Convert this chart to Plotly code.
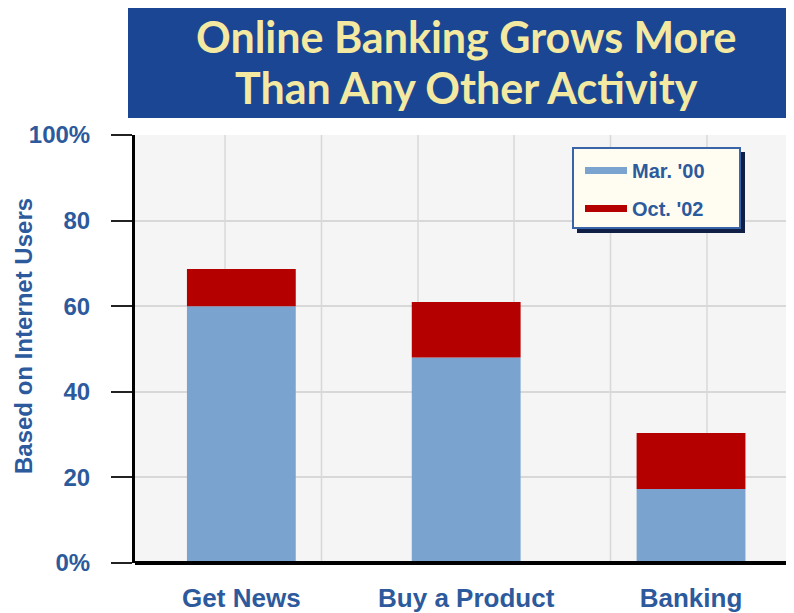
import plotly.graph_objects as go

# ---- data ----
categories = ["Get News", "Buy a Product", "Banking"]
mar_00 = [60, 48, 17.3]        # Mar. '00 share of internet users (%)
oct_02 = [68.7, 61, 30.4]      # Oct. '02 share of internet users (%)
y_tick_vals = [0, 20, 40, 60, 80, 100]
y_tick_text = ["0%", "20", "40", "60", "80", "100%"]
series_names = ["Mar. '00", "Oct. '02"]
title_lines = ["Online Banking Grows More", "Than Any Other Activity"]
y_title = "Based on Internet Users"

# ---- style ----
OFF = 8                      # page body margin
W, H = 794 - OFF, 613 - OFF
L, R, T, B = 127, 0, 127, 50
PW, PH = W - L - R, H - T - B
BLUE = "#7BA3CF"
RED = "#B50000"
TXT = "#2C5A9C"
NAVY = "#1B4694"
GRID = "#D8D8D8"


def px(x):   # page pixel x -> paper
    return (x - OFF - L) / PW


def py(y):   # page pixel y -> paper
    return (H - B - (y - OFF)) / PH


increase = [o - m for o, m in zip(oct_02, mar_00)]

fig = go.Figure()
fig.add_trace(go.Bar(x=categories, y=mar_00, marker=dict(color=BLUE, line=dict(width=0)),
                     width=0.484, showlegend=False, name=series_names[0]))
fig.add_trace(go.Bar(x=categories, y=increase, base=mar_00, marker=dict(color=RED, line=dict(width=0)),
                     width=0.484, showlegend=False, name=series_names[1]))
# legend entries (line swatches)
for nm, col in zip(series_names, [BLUE, RED]):
    fig.add_trace(go.Scatter(x=[None], y=[None], mode="lines", name=nm, legendgroup=nm,
                             line=dict(color=col, width=7)))

shapes = []
# vertical grid lines
for gx in [225, 321.5, 418, 514, 610.5, 707]:
    shapes.append(dict(type="line", xref="paper", yref="paper", x0=px(gx), x1=px(gx), y0=0, y1=1,
                       line=dict(color=GRID, width=1.5), layer="below"))
# title box
shapes.append(dict(type="rect", xref="paper", yref="paper", x0=px(128), x1=px(800), y0=py(118), y1=py(8),
                   fillcolor=NAVY, line=dict(width=0), layer="above"))
# legend shadow and box
shapes.append(dict(type="rect", xref="paper", yref="paper", x0=px(577), x1=px(745), y0=py(233), y1=py(152),
                   fillcolor="#0F1F45", line=dict(width=0), layer="above"))
shapes.append(dict(type="rect", xref="paper", yref="paper", x0=px(573), x1=px(740), y0=py(228), y1=py(148),
                   fillcolor="#FFFDF2", line=dict(color="#3A64A8", width=2), layer="above"))

title_font = dict(family="Lato", size=43, color="#F3E9A1", weight="bold")
annotations = [
    dict(text=title_lines[0], xref="paper", yref="paper", x=px(466), y=py(36), showarrow=False,
         xanchor="center", yanchor="middle", borderpad=0, font=title_font),
    dict(text=title_lines[1], xref="paper", yref="paper", x=px(466), y=py(88), showarrow=False,
         xanchor="center", yanchor="middle", borderpad=0, font=title_font),
    dict(text="<b>" + y_title + "</b>", xref="paper", yref="paper", x=px(23), y=py(336), showarrow=False,
         textangle=-90, xanchor="center", yanchor="middle",
         font=dict(family="Liberation Sans", size=24, color=TXT)),
]

fig.update_layout(
    width=W, height=H,
    margin=dict(l=L, r=R, t=T, b=B),
    paper_bgcolor="white",
    plot_bgcolor="#F5F5F5",
    barmode="overlay",
    shapes=shapes,
    annotations=annotations,
    showlegend=True,
    legend=dict(x=px(580), y=py(151), xanchor="left", yanchor="top", bgcolor="rgba(0,0,0,0)",
                borderwidth=0, tracegroupgap=9, itemwidth=42,
                font=dict(family="Liberation Sans", size=20, color=TXT, weight="bold")),
    xaxis=dict(range=[-0.473, 2.458], showgrid=False, zeroline=False, showline=False, ticks="",
               ticklabelstandoff=17,
               tickfont=dict(family="Liberation Sans", size=26, color=TXT, weight="bold")),
    yaxis=dict(range=[0, 100], tickvals=y_tick_vals, ticktext=y_tick_text, showgrid=True,
               gridcolor=GRID, gridwidth=2, zeroline=False, showline=True, linecolor="black",
               linewidth=3, ticks="outside", ticklen=21, tickwidth=2, tickcolor="#222",
               ticklabelstandoff=16,
               tickfont=dict(family="Liberation Sans", size=24, color=TXT, weight="bold")),
)
# bottom axis line
fig.add_shape(type="line", xref="paper", yref="paper", x0=0, x1=1, y0=0, y1=0,
              line=dict(color="black", width=4), layer="above")

fig.write_html("out.html")
